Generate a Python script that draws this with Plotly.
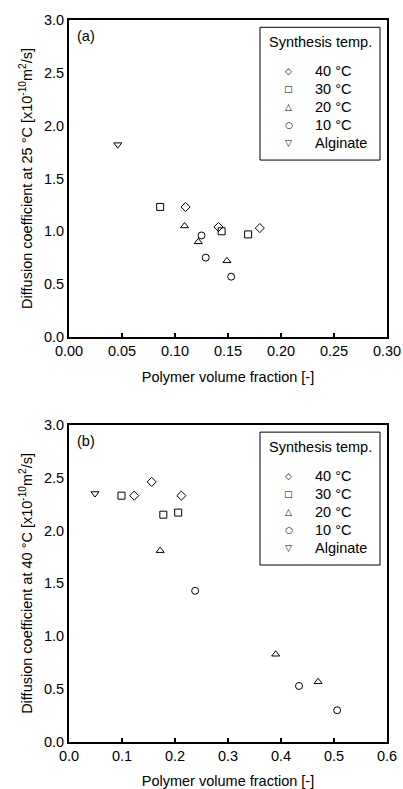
import plotly.graph_objects as go

# ---- data: panel (a) D at 25 °C ----
a_40_x = [0.110, 0.141, 0.180]
a_40_y = [1.23, 1.04, 1.03]
a_30_x = [0.086, 0.144, 0.169]
a_30_y = [1.23, 1.00, 0.97]
a_20_x = [0.109, 0.122, 0.149]
a_20_y = [1.05, 0.90, 0.72]
a_10_x = [0.125, 0.129, 0.153]
a_10_y = [0.96, 0.75, 0.57]
a_alg_x = [0.046]
a_alg_y = [1.82]

# ---- data: panel (b) D at 40 °C ----
b_40_x = [0.123, 0.156, 0.212]
b_40_y = [2.33, 2.46, 2.33]
b_30_x = [0.099, 0.178, 0.206]
b_30_y = [2.33, 2.15, 2.17]
b_20_x = [0.172, 0.390, 0.470]
b_20_y = [1.81, 0.83, 0.57]
b_10_x = [0.238, 0.434, 0.506]
b_10_y = [1.43, 0.53, 0.30]
b_alg_x = [0.049]
b_alg_y = [2.35]

series_names = ["40 °C", "30 °C", "20 °C", "10 °C", "Alginate"]
symbols = ["diamond-open", "square-open", "triangle-up-open", "circle-open", "triangle-down-open"]
legend_glyphs = ["◇", "□", "△", "○", "▽"]
legend_title = "Synthesis temp."

FONT = "Liberation Sans, Arial, sans-serif"
FS = 14.5

fig = go.Figure()

panel_a = [(a_40_x, a_40_y), (a_30_x, a_30_y), (a_20_x, a_20_y), (a_10_x, a_10_y), (a_alg_x, a_alg_y)]
panel_b = [(b_40_x, b_40_y), (b_30_x, b_30_y), (b_20_x, b_20_y), (b_10_x, b_10_y), (b_alg_x, b_alg_y)]

for (xs, ys), name, sym in zip(panel_a, series_names, symbols):
    fig.add_trace(go.Scatter(x=xs, y=ys, mode="markers", name=name, showlegend=False,
                             marker=dict(symbol=sym, size=7, color="black", line=dict(width=1, color="black")),
                             xaxis="x", yaxis="y"))
for (xs, ys), name, sym in zip(panel_b, series_names, symbols):
    fig.add_trace(go.Scatter(x=xs, y=ys, mode="markers", name=name, showlegend=False,
                             marker=dict(symbol=sym, size=7, color="black", line=dict(width=1, color="black")),
                             xaxis="x2", yaxis="y2"))

axis_common = dict(showline=True, mirror=True, linewidth=2, linecolor="black",
                   showgrid=False, zeroline=False, automargin=False,
                   tickfont=dict(family=FONT, size=FS, color="black"))

ytitle_sup = "Diffusion coefficient at {} °C [x10<sup>-10</sup>m<sup>2</sup>/s]"

# Page geometry (page pixels): plot areas x 69..387, y 20..337 and 425..742.
# Initial figure fits inside the default 8px body margin (page stays 403x789);
# the post script removes the body margin and enlarges the figure to 403x789.
OFF = 8
W0, H0 = 403 - OFF, 789 - 2 * OFF
ml0, mr0, mt0 = 69 - OFF, 16, 20 - OFF
mb0 = H0 - (742.3 - OFF)
ph = H0 - mt0 - mb0
top_bottom = 1 - (337 - 20) / ph
bot_top = 1 - (425 - 20) / ph

annotations = []
shapes = []
for ax, tag in (("", "(a)"), ("2", "(b)")):
    xr, yr = f"x{ax} domain", f"y{ax} domain"
    annotations.append(dict(text=tag, xref=xr, yref=yr, x=0.018, y=0.95,
                            xanchor="left", yanchor="middle", showarrow=False,
                            font=dict(family=FONT, size=FS, color="black")))
    # legend box
    shapes.append(dict(type="rect", xref=xr, yref=yr, x0=0.6006, x1=0.978, y0=0.558, y1=0.977,
                       line=dict(color="black", width=1), fillcolor="white", layer="above"))
    annotations.append(dict(text=legend_title, xref=xr, yref=yr, x=0.6226, y=0.9306,
                            xanchor="left", yanchor="middle", showarrow=False,
                            font=dict(family=FONT, size=FS, color="black")))
    item_y = [0.8391, 0.7823, 0.7256, 0.6688, 0.6120]
    for g, name, yy in zip(legend_glyphs, series_names, item_y):
        annotations.append(dict(text=g, xref=xr, yref=yr, x=0.6918, y=yy,
                                xanchor="center", yanchor="middle", showarrow=False,
                                font=dict(family="DejaVu Sans", size=9, color="black")))
        annotations.append(dict(text=name, xref=xr, yref=yr, x=0.7673, y=yy,
                                xanchor="left", yanchor="middle", showarrow=False,
                                font=dict(family=FONT, size=FS, color="black")))

fig.update_layout(
    template="none",
    width=W0, height=H0,
    margin=dict(l=ml0, r=mr0, t=mt0, b=mb0, autoexpand=False),
    paper_bgcolor="white", plot_bgcolor="white",
    font=dict(family=FONT, size=FS, color="black"),
    showlegend=False,
    xaxis=dict(domain=[0, 1], range=[0, 0.30], dtick=0.05, tickformat=".2f",
               ticks="inside", ticklen=4, tickwidth=1.5, tickcolor="black",
               anchor="y",
               title=dict(text="Polymer volume fraction [-]", font=dict(family=FONT, size=FS), standoff=14),
               **axis_common),
    yaxis=dict(domain=[top_bottom, 1], range=[0, 3.0], dtick=0.5, tickformat=".1f",
               ticks="", anchor="x",
               title=dict(text=ytitle_sup.format(25), font=dict(family=FONT, size=FS), standoff=8),
               **axis_common),
    xaxis2=dict(domain=[0, 1], range=[0, 0.6], dtick=0.1, tickformat=".1f",
                ticks="inside", ticklen=4, tickwidth=1.5, tickcolor="black",
                anchor="y2",
                title=dict(text="Polymer volume fraction [-]", font=dict(family=FONT, size=FS), standoff=14),
                **axis_common),
    yaxis2=dict(domain=[0, bot_top], range=[0, 3.0], dtick=0.5, tickformat=".1f",
                ticks="", anchor="x2",
                title=dict(text=ytitle_sup.format(40), font=dict(family=FONT, size=FS), standoff=8),
                **axis_common),
    shapes=shapes,
    annotations=annotations,
)

post = (
    "document.body.style.margin='0px';"
    "document.body.style.overflow='hidden';"
    "var gd=document.getElementById('{plot_id}');"
    "gd.style.width='403px';gd.style.height='789px';"
    "Plotly.relayout(gd,{width:403,height:789,'margin.l':69,'margin.r':16,'margin.t':20,'margin.b':47});"
)

fig.write_html("out.html", config={"displayModeBar": False}, post_script=post)
